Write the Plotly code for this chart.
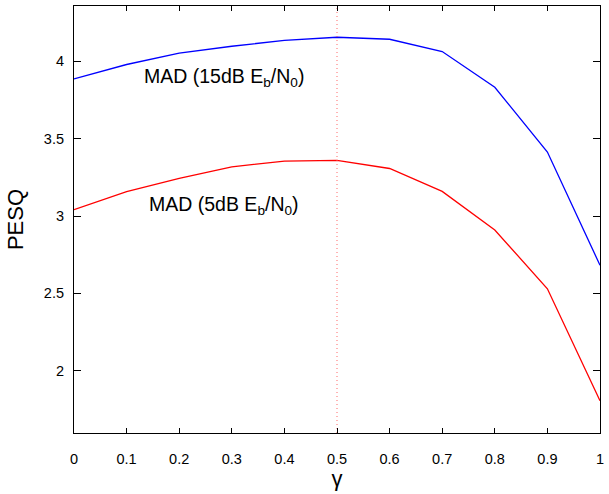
import plotly.graph_objects as go

gamma = [0, 0.1, 0.2, 0.3, 0.4, 0.5, 0.6, 0.7, 0.8, 0.9, 1.0]
pesq_15db = [3.886, 3.979, 4.052, 4.097, 4.135, 4.155, 4.142, 4.063, 3.832, 3.413, 2.682]
pesq_5db = [3.041, 3.157, 3.243, 3.318, 3.355, 3.359, 3.307, 3.159, 2.910, 2.530, 1.806]
x_ticks = [0, 0.1, 0.2, 0.3, 0.4, 0.5, 0.6, 0.7, 0.8, 0.9, 1]
y_ticks = [2, 2.5, 3, 3.5, 4]
opt_gamma = 0.5

FONT = "Liberation Sans, Arial, Helvetica, sans-serif"

fig = go.Figure()
fig.add_trace(go.Scatter(x=gamma, y=pesq_15db, mode="lines",
                         line=dict(color="#0000ff", width=1.3), showlegend=False))
fig.add_trace(go.Scatter(x=gamma, y=pesq_5db, mode="lines",
                         line=dict(color="#ff0000", width=1.3), showlegend=False))
fig.add_trace(go.Scatter(x=[opt_gamma, opt_gamma], y=[1.598, 4.357], mode="lines",
                         line=dict(color="rgba(255,90,90,0.9)", width=1, dash="1px,3px"),
                         showlegend=False))

fig.add_annotation(x=0.285, y=3.895, xref="x", yref="y", showarrow=False,
                   text="MAD (15dB E<sub>b</sub>/N<sub>0</sub>)",
                   font=dict(family=FONT, size=19.5, color="black"))
fig.add_annotation(x=0.285, y=3.07, xref="x", yref="y", showarrow=False,
                   text="MAD (5dB E<sub>b</sub>/N<sub>0</sub>)",
                   font=dict(family=FONT, size=19.5, color="black"))

fig.update_layout(
    width=609, height=494,
    margin=dict(l=74, r=6, t=5, b=61),
    plot_bgcolor="white", paper_bgcolor="white",
    font=dict(family=FONT, color="black"),
    xaxis=dict(range=[0, 1], tickvals=x_ticks, ticks="inside", ticklen=5,
               tickcolor="black", showline=True, linecolor="black", linewidth=1.2,
               mirror="allticks", showgrid=False, zeroline=False,
               tickfont=dict(size=14.5), ticklabelstandoff=12,
               title=dict(text="γ", font=dict(size=22), standoff=2)),
    yaxis=dict(range=[1.598, 4.357], tickvals=y_ticks, ticks="inside", ticklen=7,
               tickcolor="black", showline=True, linecolor="black", linewidth=1.2,
               mirror="allticks", showgrid=False, zeroline=False,
               tickfont=dict(size=14.5), ticklabelstandoff=6,
               title=dict(text="PESQ", font=dict(size=22), standoff=14)),
)

fig.write_html("out.html", config={"displayModeBar": False},
               post_script="document.body.style.margin='0';")
